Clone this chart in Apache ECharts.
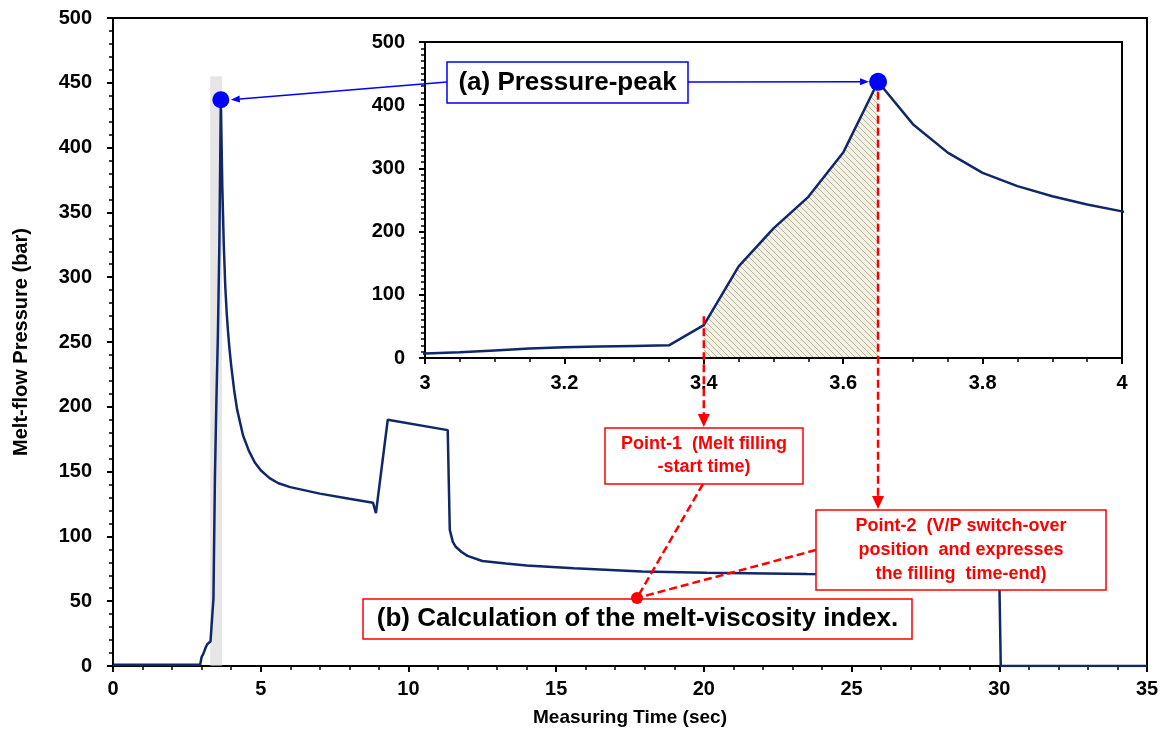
<!DOCTYPE html>
<html>
<head>
<meta charset="utf-8">
<script src="https://cdn.jsdelivr.net/npm/echarts@6/dist/echarts.min.js"></script>
<style>
html,body{margin:0;padding:0;background:#fff;}
#chart{width:1166px;height:742px;}
</style>
</head>
<body>
<div id="chart"></div>
<script>
// ---- data ----
const time = [0, 0.5, 1, 1.5, 2, 2.5, 2.95, 3.0, 3.05, 3.1, 3.15, 3.2, 3.25, 3.3, 3.35, 3.4, 3.45, 3.5, 3.55, 3.6, 3.65, 3.7, 3.75, 3.8, 3.85, 3.9, 3.95, 4.0, 4.1, 4.2, 4.4, 4.6, 4.8, 5.0, 5.3, 5.6, 6.0, 7.0, 8.0, 8.8, 8.9, 9.3, 11.33, 11.4, 11.5, 11.6, 11.8, 12.0, 12.5, 13.3, 14.0, 15.6, 17.9, 20.1, 23.5, 26.0, 28.0, 30.0, 30.05, 31.0, 35.0];
const pressure = [1, 1, 1, 1, 1, 1, 1, 7, 9, 12, 15, 17, 18, 19, 20, 52, 145, 205, 255, 325, 437, 370, 325, 293, 272, 256, 243, 232, 213, 198, 178, 166, 157, 151, 145, 141, 138, 133, 129, 126, 118, 190, 182, 105, 96, 92, 88, 85, 81, 79, 77.5, 75.5, 73, 72, 71, 70.5, 70, 69, 0, 0, 0];
const peakPoint = [3.65, 437];
const bandRange = [3.29, 3.69];
const bandTop = 455;
const fillRange = [3.4, 3.65];
const point1Start = 66;   // inset value where Point-1 guide begins

const mainX = {min: 0, max: 35, interval: 5};
const mainY = {min: 0, max: 500, interval: 50};
const insetX = {min: 3, max: 4, interval: 0.2};
const insetY = {min: 0, max: 500, interval: 100};

const labels = {
  xName: 'Measuring Time (sec)',
  yName: 'Melt-flow Pressure (bar)',
  a: '(a) Pressure-peak',
  p1: 'Point-1  (Melt filling\n-start time)',
  p2: 'Point-2  (V/P switch-over\nposition  and expresses\nthe filling  time-end)',
  b: '(b) Calculation of the melt-viscosity index.'
};

// ---- build ----
const seriesData = time.map((t, i) => [t, pressure[i]]);
const fillData = seriesData.filter(d => d[0] >= fillRange[0] - 1e-9 && d[0] <= fillRange[1] + 1e-9);

const FONT = 'Arial, "Liberation Sans", sans-serif';
const LINE = '#10286a';

function hatch() {
  const s = 6, c = document.createElement('canvas');
  c.width = s; c.height = s;
  const g = c.getContext('2d');
  g.fillStyle = '#f4f2e6'; g.fillRect(0, 0, s, s);
  g.strokeStyle = '#b8b392'; g.lineWidth = 1;
  for (const k of [-s, 0, s]) {
    g.beginPath(); g.moveTo(k, 0); g.lineTo(k + s, s); g.stroke();
  }
  return c;
}

function axisCommon(ax, minorSplit, labelMargin, fontSize) {
  return Object.assign({
    type: 'value',
    axisLine: {show: true, onZero: false, lineStyle: {color: '#000', width: 2}},
    axisTick: {show: true, inside: false, length: 6, lineStyle: {color: '#000', width: 2}},
    minorTick: {show: true, splitNumber: minorSplit, length: 4, lineStyle: {color: '#000', width: 1.5}},
    splitLine: {show: false},
    minorSplitLine: {show: false},
    axisLabel: {color: '#000', fontWeight: 'bold', fontSize: fontSize, fontFamily: FONT, margin: labelMargin}
  }, ax);
}

const chart = echarts.init(document.getElementById('chart'), null, {renderer: 'canvas'});

const option = {
  backgroundColor: '#fff',
  animation: false,
  grid: [
    {left: 113, right: 19, top: 18, bottom: 76, show: true, borderColor: '#000', borderWidth: 2, backgroundColor: 'rgba(0,0,0,0)'},
    {left: 425, right: 44, top: 42, bottom: 384, show: true, borderColor: '#000', borderWidth: 2, backgroundColor: '#fff', z: 3}
  ],
  xAxis: [
    axisCommon(Object.assign({gridIndex: 0, name: labels.xName, nameLocation: 'middle', nameGap: 42,
      nameTextStyle: {color: '#000', fontWeight: 'bold', fontSize: 19, fontFamily: FONT}}, mainX), 5, 13, 20),
    axisCommon(Object.assign({gridIndex: 1, z: 4}, insetX), 4, 15, 20)
  ],
  yAxis: [
    axisCommon(Object.assign({gridIndex: 0, name: labels.yName, nameLocation: 'middle', nameGap: 82,
      nameTextStyle: {color: '#000', fontWeight: 'bold', fontSize: 20, fontFamily: FONT}}, mainY), 5, 21, 20),
    axisCommon(Object.assign({gridIndex: 1, z: 4}, insetY), 10, 20, 20)
  ],
  series: [
    {type: 'line', xAxisIndex: 0, yAxisIndex: 0, data: seriesData, showSymbol: false, symbol: 'none',
      lineStyle: {color: LINE, width: 2.5}, z: 2},
    {type: 'line', xAxisIndex: 0, yAxisIndex: 0, data: [], symbol: 'none', zlevel: 1, z: 3,
      markArea: {silent: true, itemStyle: {color: 'rgba(210,210,210,0.55)'},
        data: [[{xAxis: bandRange[0], yAxis: 0}, {xAxis: bandRange[1], yAxis: bandTop}]]}},
    {type: 'scatter', xAxisIndex: 0, yAxisIndex: 0, data: [peakPoint], symbolSize: 17,
      itemStyle: {color: '#0000ff', opacity: 1}, zlevel: 1, z: 5},
    {type: 'line', xAxisIndex: 1, yAxisIndex: 1, data: fillData, symbol: 'none', z: 4,
      lineStyle: {width: 0}, areaStyle: {color: {image: hatch(), repeat: 'repeat'}, opacity: 1}},
    {type: 'line', xAxisIndex: 1, yAxisIndex: 1, data: seriesData, symbol: 'none', z: 5,
      lineStyle: {color: LINE, width: 2.5}},
    {type: 'scatter', xAxisIndex: 1, yAxisIndex: 1, data: [peakPoint], symbolSize: 18,
      itemStyle: {color: '#0000ff', opacity: 1}, z: 6}
  ]
};
chart.setOption(option);

// ---- annotations (layout boxes, arrows anchored to data points) ----
const box = {
  a:  {x: 447, y: 62,  w: 241, h: 41, stroke: '#0000ff', color: '#000', size: 26, lh: 30},
  p1: {x: 605, y: 428, w: 198, h: 56, stroke: '#ff0000', color: '#ff0000', size: 18, lh: 23},
  p2: {x: 816, y: 510, w: 290, h: 80, stroke: '#ff0000', color: '#ff0000', size: 18, lh: 24},
  b:  {x: 363, y: 599, w: 549, h: 40, stroke: '#ff0000', color: '#000', size: 26, lh: 30}
};
const redDot = {x: 637, y: 598, r: 6};

function boxEls(b, text) {
  return [
    {type: 'rect', z: 100, zlevel: 1, shape: {x: b.x, y: b.y, width: b.w, height: b.h},
      style: {fill: '#fff', stroke: b.stroke, lineWidth: 1.5}},
    {type: 'text', z: 101, zlevel: 1, x: b.x + b.w / 2, y: b.y + b.h / 2,
      style: {text: text, fill: b.color, font: 'bold ' + b.size + 'px ' + FONT,
        align: 'center', verticalAlign: 'middle', textAlign: 'center', textVerticalAlign: 'middle', lineHeight: b.lh}}
  ];
}
function arrowEls(x1, y1, x2, y2, color, width, dash, hl, hw) {
  const dx = x2 - x1, dy = y2 - y1, L = Math.sqrt(dx * dx + dy * dy);
  const ux = dx / L, uy = dy / L;
  const els = [];
  const ex = hl ? x2 - ux * hl : x2, ey = hl ? y2 - uy * hl : y2;
  els.push({type: 'line', z: 99, zlevel: 1, shape: {x1: x1, y1: y1, x2: ex, y2: ey},
    style: {stroke: color, lineWidth: width, lineDash: dash || null}});
  if (hl) {
    const px = -uy, py = ux;
    els.push({type: 'polygon', z: 99, zlevel: 1, shape: {points: [[x2, y2],
      [ex + px * hw / 2, ey + py * hw / 2], [ex - px * hw / 2, ey - py * hw / 2]]},
      style: {fill: color}});
  }
  return els;
}

const mainPeak = chart.convertToPixel({gridIndex: 0}, peakPoint);
const insetPeak = chart.convertToPixel({gridIndex: 1}, peakPoint);
const insetP1 = chart.convertToPixel({gridIndex: 1}, [fillRange[0], point1Start]);
const insetP2x = chart.convertToPixel({gridIndex: 1}, [fillRange[1], 0])[0];

const dash = [8, 4];
let g = [];
g = g.concat(arrowEls(box.a.x, box.a.y + 20, mainPeak[0] + 10, mainPeak[1], '#0000ff', 1.5, null, 9, 7));
g = g.concat(arrowEls(box.a.x + box.a.w, box.a.y + 20, insetPeak[0] - 9, insetPeak[1], '#0000ff', 1.5, null, 9, 7));
g = g.concat(arrowEls(insetP1[0], insetP1[1], insetP1[0], box.p1.y - 1, '#ff0000', 2.5, dash, 13, 12));
g = g.concat(arrowEls(insetP2x, insetPeak[1] + 10, insetP2x, box.p2.y - 1, '#ff0000', 2.5, dash, 13, 12));
g = g.concat(arrowEls(box.p1.x + 98, box.p1.y + box.p1.h, redDot.x, redDot.y, '#ff0000', 2.5, dash, 0, 0));
g = g.concat(arrowEls(box.p2.x, box.p2.y + 40, redDot.x, redDot.y, '#ff0000', 2.5, dash, 0, 0));
g = g.concat(boxEls(box.a, labels.a));
g = g.concat(boxEls(box.p1, labels.p1));
g = g.concat(boxEls(box.p2, labels.p2));
g = g.concat(boxEls(box.b, labels.b));
g.push({type: 'circle', z: 102, zlevel: 1, shape: {cx: redDot.x, cy: redDot.y, r: redDot.r}, style: {fill: '#ff0000'}});

chart.setOption({graphic: {elements: g}});
</script>
</body>
</html>
